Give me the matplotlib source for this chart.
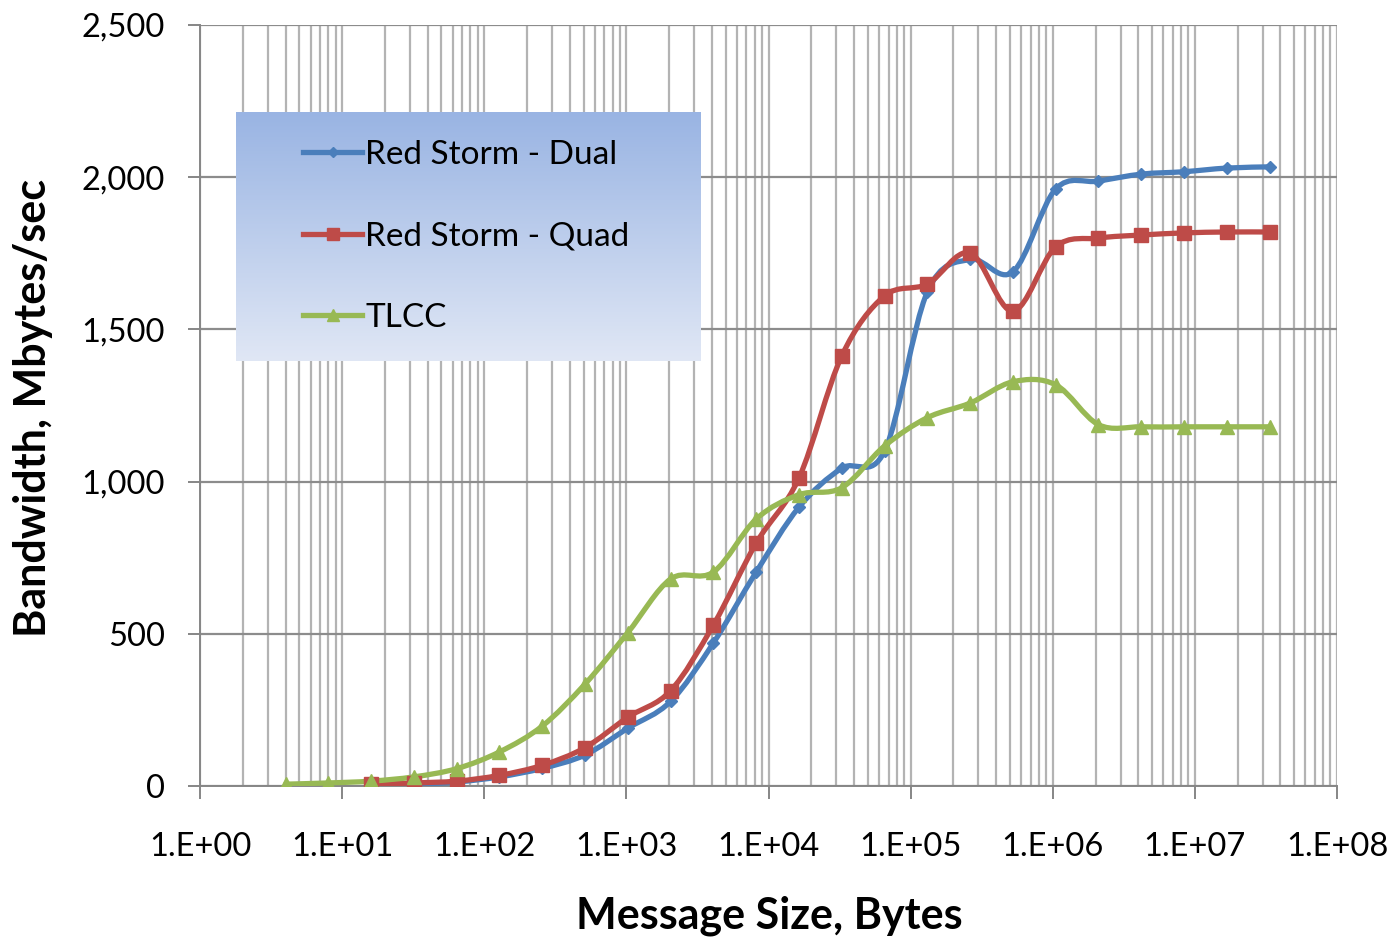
import numpy as np
import matplotlib
matplotlib.use('Agg')
import matplotlib.pyplot as plt
from matplotlib.path import Path
from matplotlib.patches import PathPatch
from matplotlib.lines import Line2D
from matplotlib.ticker import FuncFormatter, LogLocator, FixedLocator
from matplotlib.colors import LinearSegmentedColormap

plt.rcParams['font.family'] = ['Lato', 'DejaVu Sans']

# message sizes, bytes (powers of two)
tlcc_sizes = [4, 8, 16, 32, 64, 128, 256, 512, 1024, 2048, 4096, 8192,
              16384, 32768, 65536, 131072, 262144, 524288, 1048576,
              2097152, 4194304, 8388608, 16777216, 33554432]
rs_sizes = tlcc_sizes[2:]

# bandwidth, Mbytes/sec
dual_bw = [3, 6, 13, 30, 58, 102, 190, 278, 470, 703, 916, 1044, 1100,
           1623, 1730, 1689, 1961, 1987, 2010, 2018, 2030, 2034]
quad_bw = [5, 10, 16, 35, 68, 126, 226, 313, 529, 798, 1012, 1413, 1610,
           1649, 1751, 1560, 1771, 1800, 1810, 1817, 1820, 1820]
tlcc_bw = [6, 10, 16, 30, 57, 112, 197, 335, 504, 680, 703, 877, 957, 980,
           1117, 1210, 1258, 1328, 1318, 1187, 1180, 1180, 1180, 1180]

series_names = ['Red Storm - Dual', 'Red Storm - Quad', 'TLCC']
colors = ['#4a7ebb', '#be4b48', '#98b954']
markers = ['D', 's', '^']
marker_sizes = [6, 10, 10]


def smooth_path(xs, ys):
    # Excel style smoothed line: cubic bezier through the points,
    # control points built in (log10 x, y) space
    lx = np.log10(np.asarray(xs, dtype=float))
    y = np.asarray(ys, dtype=float)
    n = len(lx)
    verts = [(xs[0], ys[0])]
    codes = [Path.MOVETO]
    for i in range(n - 1):
        i0 = max(i - 1, 0)
        i3 = min(i + 2, n - 1)
        c1x = lx[i] + (lx[i + 1] - lx[i0]) / 6.0
        c1y = y[i] + (y[i + 1] - y[i0]) / 6.0
        c2x = lx[i + 1] - (lx[i3] - lx[i]) / 6.0
        c2y = y[i + 1] - (y[i3] - y[i]) / 6.0
        verts += [(10 ** c1x, c1y), (10 ** c2x, c2y), (xs[i + 1], ys[i + 1])]
        codes += [Path.CURVE4] * 3
    return Path(verts, codes)


fig = plt.figure(figsize=(13.92, 9.40), dpi=100)
ax = fig.add_axes([200 / 1392, 1 - 786 / 940, 1137 / 1392, 761 / 940])

ax.set_xscale('log')
ax.set_xlim(1, 1e8)
ax.set_ylim(0, 2500)

all_x = [rs_sizes, rs_sizes, tlcc_sizes]
all_y = [dual_bw, quad_bw, tlcc_bw]
for xs, ys, c, m, ms in zip(all_x, all_y, colors, markers, marker_sizes):
    ax.add_patch(PathPatch(smooth_path(xs, ys), fill=False, edgecolor=c,
                           lw=3.8, capstyle='round', joinstyle='round', zorder=3))
    ax.plot(xs, ys, linestyle='none', marker=m, markersize=ms, color=c,
            markeredgecolor=c, zorder=4)

# grid
ax.yaxis.set_major_locator(FixedLocator([0, 500, 1000, 1500, 2000, 2500]))
ax.xaxis.set_major_locator(LogLocator(base=10, numticks=20))
ax.xaxis.set_minor_locator(LogLocator(base=10, subs=np.arange(2, 10), numticks=100))
ax.grid(True, axis='x', which='both', color='#b3b3b3', lw=1.6)
ax.grid(True, axis='y', which='major', color='#8c8c8c', lw=1.6)
ax.set_axisbelow(True)

for side in ['top', 'right']:
    ax.spines[side].set_visible(False)
for side in ['left', 'bottom']:
    ax.spines[side].set_color('#868686')
    ax.spines[side].set_linewidth(1.4)

ax.yaxis.set_major_formatter(FuncFormatter(lambda v, p: '{:,.0f}'.format(v)))
ax.xaxis.set_major_formatter(
    FuncFormatter(lambda v, p: '1.E+%02d' % int(round(np.log10(v)))))
ax.tick_params(axis='x', which='major', length=9, width=1.4, color='#868686',
               pad=24, labelsize=23.5)
ax.tick_params(axis='x', which='minor', length=0)
ax.tick_params(axis='y', which='major', length=9, width=1.4, color='#868686',
               pad=16, labelsize=23.5)

fig.text(769 / 1392, 1 - 916 / 940, 'Message Size, Bytes', ha='center',
         va='center', fontsize=31, fontweight='bold')
fig.text(33 / 1392, 1 - 408 / 940, 'Bandwidth, Mbytes/sec', ha='center',
         va='center', rotation=90, fontsize=31, fontweight='bold')

# legend with gradient box
leg_ax = fig.add_axes([236 / 1392, 1 - 361 / 940, 465 / 1392, 249 / 940])
grad = LinearSegmentedColormap.from_list('leg', ['#e0e7f5', '#99b4e3'])
leg_ax.imshow(np.linspace(0, 1, 256).reshape(-1, 1)[::-1], cmap=grad,
              aspect='auto', extent=[0, 1, 0, 1])
leg_ax.set_xlim(0, 1)
leg_ax.set_ylim(0, 1)
leg_ax.axis('off')

handles = [Line2D([], [], color=c, lw=3.8, marker=m, markersize=ms * 0.9,
                  markeredgecolor=c)
           for c, m, ms in zip(colors, markers, marker_sizes)]
leg_ax.legend(handles, series_names, loc='center left',
              bbox_to_anchor=(0.145, 0.5), frameon=False, fontsize=24,
              numpoints=1, handlelength=1.75, handletextpad=0.1,
              labelspacing=1.55, borderpad=0, borderaxespad=0)

fig.savefig('out.png', dpi=100)
